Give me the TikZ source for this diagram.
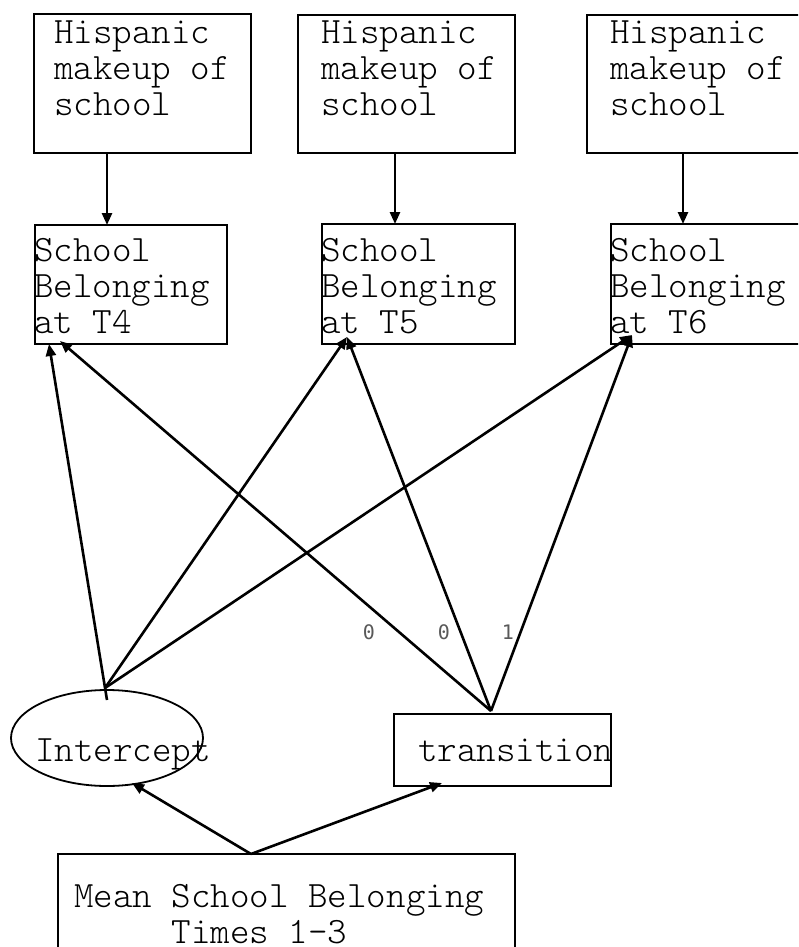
\documentclass[tikz,border=0pt]{standalone}
\usepackage{fontspec}
\newfontfamily\wtfont{DejaVu Sans Mono}
\usetikzlibrary{arrows.meta,calc,shapes.geometric}

\tikzset{
  box/.style={draw, line width=2.2pt, rectangle, inner sep=0pt, outer sep=0pt, anchor=north west},
  oval/.style={draw, line width=1.8pt, ellipse, inner sep=0pt, outer sep=0pt},
  txt/.style={anchor=base west, inner sep=0pt, outer sep=0pt,
              font=\ttfamily\fontseries{l}\fontsize{37.2}{36}\selectfont},
  wt/.style={inner sep=0pt, text=black!65, font=\wtfont\fontsize{20}{22}\selectfont},
  path/.style={line width=2.6pt, -{Triangle[length=12pt,width=10pt]}}
}

\begin{document}
\begin{tikzpicture}[x=1pt,y=-1pt]
  \useasboundingbox (0,0) rectangle (798,947);
  \clip (0,0) rectangle (798,947);

  % school composition boxes (top row)
  \node[box, minimum width=217pt, minimum height=139pt] (hA) at (34,14) {};
  \node[box, minimum width=217pt, minimum height=138pt] (hB) at (298,15) {};
  \node[box, minimum width=217pt, minimum height=138pt] (hC) at (587,15) {};
  \node[txt] (hAt) at (54,44) {\vtop{\hbox{Hispanic}\hbox{makeup of}\hbox{school}}};
  \node[txt] (hBt) at (321,44) {\vtop{\hbox{Hispanic}\hbox{makeup of}\hbox{school}}};
  \node[txt] (hCt) at (610,44) {\vtop{\hbox{Hispanic}\hbox{makeup of}\hbox{school}}};

  % outcome boxes
  \node[box, minimum width=192pt, minimum height=119pt] (t4) at (35,225) {};
  \node[box, minimum width=193pt, minimum height=120pt] (t5) at (322,224) {};
  \node[box, minimum width=193pt, minimum height=120pt] (t6) at (611,224) {};
  \node[txt] (t4t) at (34,261) {\vtop{\hbox{School}\hbox{Belonging}\hbox{at T4}}};
  \node[txt] (t5t) at (321,261) {\vtop{\hbox{School}\hbox{Belonging}\hbox{at T5}}};
  \node[txt] (t6t) at (610,261) {\vtop{\hbox{School}\hbox{Belonging}\hbox{at T6}}};

  % growth factors
  \node[oval, minimum width=192pt, minimum height=96pt] (icpt) at (107,738) {};
  \node[txt] (icptt) at (35,761) {Intercept};
  \node[box, minimum width=217pt, minimum height=72pt] (trans) at (394,714) {};
  \node[txt] (transt) at (418,761) {transition};

  % predictor
  \node[box, minimum width=457pt, minimum height=140pt] (mean) at (58,854) {};
  \node[txt] (meant) at (74,907) {\vtop{\hbox{Mean School Belonging}\hbox{\phantom{Mean }Times 1-3}}};

  % connector ends
  \coordinate (hAo) at ($(hA.south west)+(73,0)$);
  \coordinate (hBo) at ($(hB.south west)+(97,0)$);
  \coordinate (hCo) at ($(hC.south west)+(96,0)$);
  \coordinate (t4i) at ($(t4.north west)+(72,0)$);
  \coordinate (t5i) at ($(t5.north west)+(73,0)$);
  \coordinate (t6i) at ($(t6.north west)+(72,0)$);
  \coordinate (t4a) at ($(t4.south west)+(14,0)$);
  \coordinate (t4b) at ($(t4.south west)+(25,-3)$);
  \coordinate (t5p) at ($(t5.south west)+(25,-7)$);
  \coordinate (t6p) at ($(t6.south west)+(21,-9)$);
  \coordinate (iA) at ($(icpt.north)+(-2,-2)$);
  \coordinate (iB) at ($(icpt.north)+(0,10)$);
  \coordinate (tA) at ($(trans.north west)+(97,-3)$);
  \coordinate (mA) at ($(mean.north west)+(193,0)$);
  \coordinate (icIn) at (132,783);
  \coordinate (trIn) at ($(trans.south west)+(48,-3)$);

  % school composition effects
  \draw[path] (hAo) -- (t4i);
  \draw[path] (hBo) -- (t5i);
  \draw[path] (hCo) -- (t6i);

  % intercept loadings
  \draw[path] (iB) -- (t4a);
  \draw[path] (iA) -- (t5p);
  \draw[path] (iA) -- (t6p);

  % transition loadings
  \draw[path] (tA) -- (t4b);
  \draw[path] (tA) -- (t5p);
  \draw[path] (tA) -- (t6p);

  % predictor effects
  \draw[path] (mA) -- (icIn);
  \draw[path] (mA) -- (trIn);

  % fixed loadings of the transition factor
  \node[wt] (w4) at (369,632) {0};
  \node[wt] (w5) at (444,632) {0};
  \node[wt] (w6) at (508,632) {1};
\end{tikzpicture}
\end{document}
